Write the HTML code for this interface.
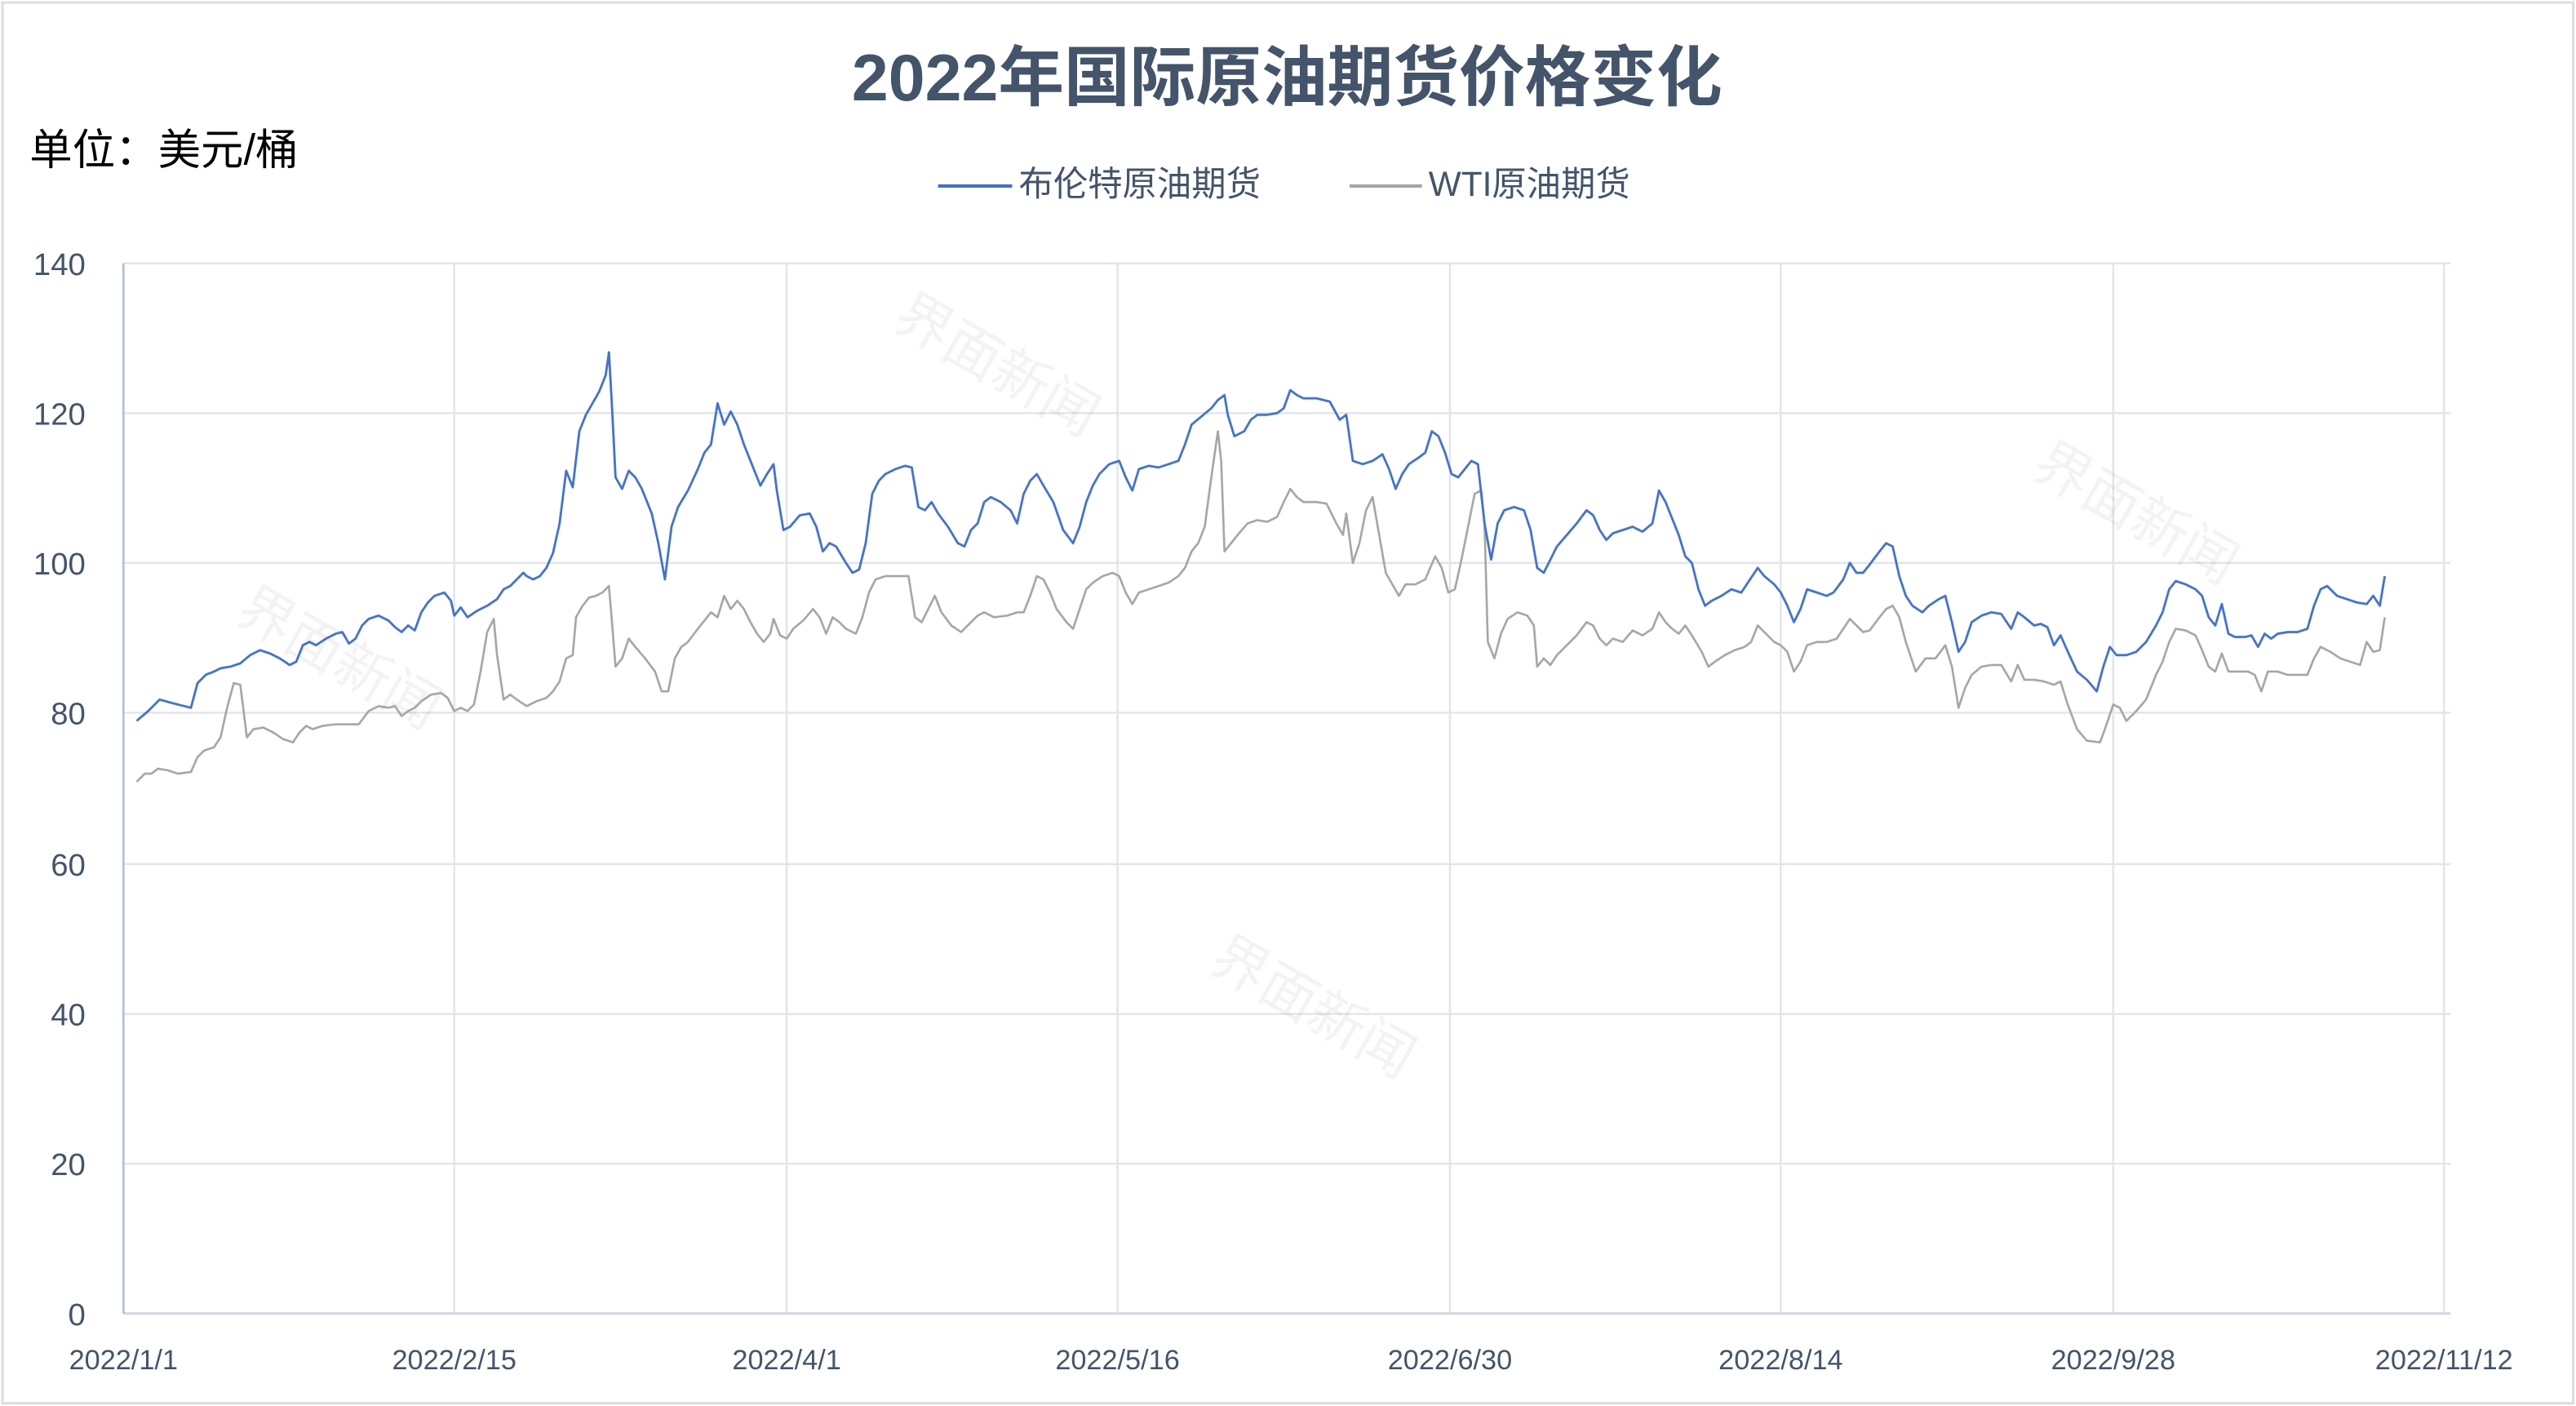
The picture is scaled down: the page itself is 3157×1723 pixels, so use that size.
<!DOCTYPE html>
<html><head><meta charset="utf-8"><style>
html,body{margin:0;padding:0;background:#fff;}
svg{display:block;}
text{font-family:"Liberation Sans","Noto Sans CJK SC",sans-serif;}
</style></head><body>
<svg width="3157" height="1723" viewBox="0 0 1565.2 854.2" preserveAspectRatio="none" xmlns="http://www.w3.org/2000/svg">
<rect x="1.5" y="1.5" width="1562" height="851" fill="#fff" stroke="#d9dde3" stroke-width="1.5"/>
<text x="782" y="61" text-anchor="middle" font-size="40" font-weight="bold" fill="#44546a">2022年国际原油期货价格变化</text>
<text x="18" y="100" font-size="26" fill="#000">单位：美元/桶</text>
<line x1="570" y1="113" x2="615" y2="113" stroke="#4472c4" stroke-width="2"/>
<text x="619" y="119" font-size="21" fill="#44546a">布伦特原油期货</text>
<line x1="820" y1="113" x2="864" y2="113" stroke="#a5a5a5" stroke-width="2"/>
<text x="868" y="119" font-size="21" fill="#44546a">WTI原油期货</text>
<g stroke="#e1e5eb" stroke-width="1.2">
<line x1="75" y1="160" x2="1489" y2="160"/><line x1="75" y1="251" x2="1489" y2="251"/><line x1="75" y1="342" x2="1489" y2="342"/><line x1="75" y1="433" x2="1489" y2="433"/><line x1="75" y1="525" x2="1489" y2="525"/><line x1="75" y1="616" x2="1489" y2="616"/><line x1="75" y1="707" x2="1489" y2="707"/>
<line x1="276" y1="160" x2="276" y2="798"/><line x1="478" y1="160" x2="478" y2="798"/><line x1="679" y1="160" x2="679" y2="798"/><line x1="881" y1="160" x2="881" y2="798"/><line x1="1082" y1="160" x2="1082" y2="798"/><line x1="1284" y1="160" x2="1284" y2="798"/><line x1="1485" y1="160" x2="1485" y2="798"/>
<line x1="75" y1="798" x2="1489" y2="798" stroke="#d5dae2" stroke-width="1.6"/>
</g>
<line x1="75" y1="160" x2="75" y2="798" stroke="#b4bfd0" stroke-width="1.3"/>
<g font-size="19" fill="#44546a" text-anchor="end">
<text x="52" y="167">140</text><text x="52" y="258">120</text><text x="52" y="349">100</text><text x="52" y="440">80</text><text x="52" y="532">60</text><text x="52" y="623">40</text><text x="52" y="714">20</text><text x="52" y="805">0</text>
</g>
<g font-size="17" fill="#44546a" text-anchor="middle">
<text x="75" y="832">2022/1/1</text><text x="276" y="832">2022/2/15</text><text x="478" y="832">2022/4/1</text><text x="679" y="832">2022/5/16</text><text x="881" y="832">2022/6/30</text><text x="1082" y="832">2022/8/14</text><text x="1284" y="832">2022/9/28</text><text x="1485" y="832">2022/11/12</text>
</g>
<g font-size="34" fill="#000" opacity="0.05" text-anchor="middle">
<text transform="translate(200,410) rotate(30)">界面新闻</text>
<text transform="translate(600,232) rotate(30)">界面新闻</text>
<text transform="translate(1292,322) rotate(30)">界面新闻</text>
<text transform="translate(792,622) rotate(30)">界面新闻</text>
</g>
<polyline fill="none" stroke="#a5a5a5" stroke-width="1.3" stroke-linejoin="round" points="83,475 88,470 92,470 96,467 102,468 108,470 116,469 120,460 124,456 130,454 134,448 138,430 142,415 146,416 150,448 154,443 160,442 166,445 172,449 178,451 182,445 186,441 190,443 196,441 204,440 212,440 218,440 224,432 230,429 236,430 240,429 244,435 248,432 252,430 256,426 262,422 268,421 272,424 276,432 280,430 284,432 288,428 292,408 296,384 300,376 302,398 306,425 310,422 314,425 320,429 326,426 332,424 336,420 340,414 344,400 348,398 350,375 354,368 358,363 362,362 366,360 370,356 372,380 374,405 378,400 382,388 386,393 392,400 398,408 402,420 406,420 410,400 414,393 418,390 424,382 428,377 432,372 436,375 440,362 444,370 448,365 452,370 456,378 460,385 464,390 468,385 470,376 474,386 478,388 482,382 488,377 494,370 498,375 502,385 506,375 510,378 514,382 520,385 524,375 528,360 532,352 538,350 546,350 552,350 556,375 560,378 564,370 568,362 572,372 578,380 584,384 588,380 594,374 598,372 604,375 612,374 618,372 622,372 626,362 630,350 634,352 638,360 642,370 648,378 652,382 656,370 660,358 664,354 670,350 676,348 680,350 684,360 688,367 692,360 698,358 704,356 710,354 716,350 720,345 724,335 728,330 732,320 736,290 740,262 742,280 744,335 748,330 752,325 758,318 764,316 770,317 776,314 780,305 784,297 788,302 792,305 800,305 806,306 812,318 816,325 818,312 822,342 826,330 830,310 834,302 838,325 842,348 846,355 850,362 854,355 860,355 866,352 872,338 876,345 880,360 884,358 888,340 892,320 896,300 900,298 902,318 904,390 908,400 912,385 916,376 922,372 928,374 932,380 934,405 938,400 942,404 946,398 952,392 958,386 964,378 968,380 972,388 976,392 980,388 986,390 992,383 998,386 1004,382 1008,372 1012,378 1016,382 1020,385 1024,380 1028,386 1034,396 1038,405 1042,402 1048,398 1054,395 1060,393 1064,390 1068,380 1072,384 1078,390 1082,392 1086,396 1090,408 1094,402 1098,392 1104,390 1110,390 1116,388 1120,382 1124,376 1128,380 1132,384 1136,383 1142,375 1146,370 1150,368 1154,375 1158,390 1164,408 1170,400 1176,400 1182,392 1186,405 1190,430 1194,418 1198,410 1204,405 1210,404 1216,404 1222,414 1226,404 1230,413 1236,413 1242,414 1248,416 1252,414 1256,427 1262,443 1268,450 1276,451 1280,440 1284,428 1288,430 1292,438 1298,432 1304,425 1310,410 1314,402 1318,390 1322,382 1328,383 1334,386 1338,395 1342,405 1346,408 1350,397 1354,408 1360,408 1366,408 1370,410 1374,420 1378,408 1384,408 1390,410 1396,410 1402,410 1406,400 1410,393 1416,396 1422,400 1428,402 1434,404 1438,390 1442,396 1446,395 1449,375"/>
<polyline fill="none" stroke="#4472c4" stroke-width="1.4" stroke-linejoin="round" points="83,438 90,432 97,425 104,427 112,429 116,430 120,415 125,410 130,408 134,406 140,405 146,403 152,398 158,395 164,397 170,400 176,404 180,402 184,392 188,390 192,392 198,388 204,385 208,384 212,391 216,388 220,380 224,376 230,374 236,377 240,381 244,384 248,380 252,383 256,372 260,366 264,362 270,360 274,365 276,374 280,369 284,375 290,371 296,368 302,364 306,358 310,356 314,352 318,348 320,350 324,352 328,350 332,345 336,336 340,318 344,286 348,296 352,262 356,252 360,245 364,238 368,228 370,214 372,250 374,290 378,297 382,286 386,290 390,297 396,312 400,330 404,352 408,320 412,308 418,298 424,285 428,275 432,270 436,245 440,258 444,250 448,258 452,270 458,285 462,295 466,288 470,282 472,298 476,322 480,320 486,313 492,312 496,320 500,335 504,330 508,332 514,342 518,348 522,346 526,330 530,300 534,292 538,288 544,285 550,283 554,284 558,308 562,310 566,305 570,312 576,320 582,330 586,332 590,322 594,318 598,305 602,302 608,305 614,310 618,318 622,300 626,292 630,288 634,295 640,305 646,322 652,330 656,320 660,305 664,295 668,288 674,282 680,280 684,290 688,298 692,285 698,283 704,284 710,282 716,280 720,270 724,258 730,253 736,248 740,243 744,240 746,252 750,265 756,262 760,255 764,252 770,252 776,251 780,248 784,237 788,240 792,242 800,242 808,244 814,255 818,252 822,280 828,282 834,280 840,276 844,285 848,297 852,288 856,282 862,278 866,275 870,262 874,265 878,275 882,288 886,290 890,285 894,280 898,282 902,318 906,340 910,318 914,310 920,308 926,310 930,322 934,345 938,348 942,340 946,332 952,325 958,318 964,310 968,313 972,322 976,328 980,324 986,322 992,320 998,323 1004,318 1008,298 1012,305 1016,315 1020,325 1024,338 1028,342 1032,358 1036,368 1040,365 1046,362 1052,358 1058,360 1062,354 1068,345 1072,350 1078,355 1082,360 1086,368 1090,378 1094,370 1098,358 1104,360 1110,362 1114,360 1120,352 1124,342 1128,348 1132,348 1136,343 1142,335 1146,330 1150,332 1154,350 1158,362 1162,368 1168,372 1172,368 1178,364 1182,362 1186,378 1190,396 1194,390 1198,378 1204,374 1210,372 1216,373 1222,382 1226,372 1230,375 1236,380 1240,379 1244,381 1248,392 1252,386 1256,395 1262,408 1268,413 1274,420 1278,405 1282,393 1286,398 1292,398 1298,396 1304,390 1310,380 1314,372 1318,358 1322,353 1328,355 1334,358 1338,362 1342,375 1346,380 1350,367 1354,385 1358,387 1364,387 1368,386 1372,393 1376,385 1380,388 1384,385 1390,384 1396,384 1402,382 1406,368 1410,358 1414,356 1420,362 1426,364 1432,366 1438,367 1442,362 1446,368 1449,350"/>
</svg>
</body></html>
